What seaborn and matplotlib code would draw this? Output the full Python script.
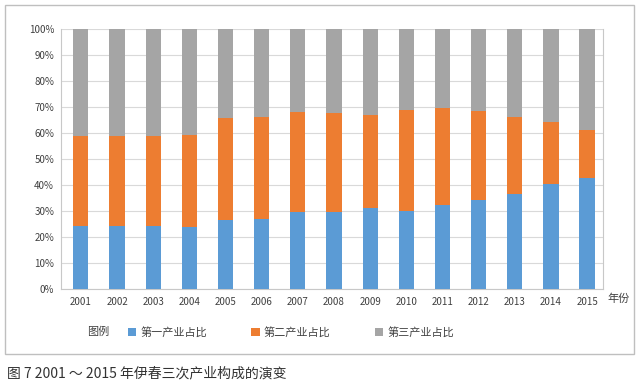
import pandas as pd
import matplotlib.pyplot as plt
import seaborn as sns
from matplotlib.patches import Rectangle

# data (shares in %)
years = [str(y) for y in range(2001, 2016)]
primary = [24.3, 24.1, 24.1, 23.9, 26.6, 26.9, 29.5, 29.6, 31.1, 30.1, 32.2, 34.3, 36.6, 40.5, 42.7]
secondary = [34.7, 34.9, 34.9, 35.4, 39.2, 39.3, 38.6, 38.1, 35.7, 38.9, 37.4, 34.3, 29.6, 23.6, 18.6]
tertiary = [41.0, 41.0, 41.0, 40.7, 34.2, 33.8, 31.9, 32.3, 33.2, 31.0, 30.4, 31.4, 33.8, 35.9, 38.7]
series_names = ["第一产业占比", "第二产业占比", "第三产业占比"]
colors = ["#5B9BD5", "#ED7D31", "#A5A5A5"]

df = pd.DataFrame({"year": years, "p1": primary, "p2": secondary, "p3": tertiary})
df["c1"] = df["p1"]
df["c2"] = df["p1"] + df["p2"]
df["c3"] = df["c2"] + df["p3"]

sns.set_style("white")
plt.rcParams["font.family"] = ["Noto Sans CJK SC", "DejaVu Sans"]

fig = plt.figure(figsize=(6.4, 3.83), dpi=100)
ax = fig.add_axes([61 / 640, 1 - 289 / 383, (603 - 61) / 640, (289 - 29) / 383])

# stacked bars: draw cumulative totals from top layer down
for col, name, color in zip(["c3", "c2", "c1"], series_names[::-1], colors[::-1]):
    sns.barplot(data=df, x="year", y=col, color=color, width=0.42,
                saturation=1, label=name, ax=ax, edgecolor="none")
for p in ax.patches:
    p.set_zorder(3)

ax.set_xlim(-0.55, 14.44)
ax.set_ylim(0, 100)
ax.set_yticks(range(0, 101, 10))
ax.set_yticklabels([f"{v}%" for v in range(0, 101, 10)])
ax.set_xlabel("")
ax.set_ylabel("")
ax.tick_params(axis="both", length=0, labelsize=7, colors="#404040")
ax.tick_params(axis="y", pad=5)
ax.tick_params(axis="x", pad=6)
ax.grid(axis="y", color="#D9D9D9", linewidth=0.8, zorder=0)
ax.set_axisbelow(True)
for side in ["left", "right", "bottom"]:
    ax.spines[side].set_color("#C8C8C8")
    ax.spines[side].set_linewidth(0.8)
ax.spines["top"].set_visible(False)

# legend
handles = [ax.containers[2], ax.containers[1], ax.containers[0]]
ax.legend(handles, series_names, loc="center left",
          bbox_to_anchor=(128 / 640, 1 - 332 / 383), bbox_transform=fig.transFigure,
          ncol=3, frameon=False, fontsize=8, handlelength=0.75, handleheight=0.75,
          handletextpad=0.35, columnspacing=4.0, borderpad=0, borderaxespad=0,
          labelcolor="#404040")

fig.text(87 / 640, 1 - 332 / 383, "图例", fontsize=8, color="#404040", va="center")
fig.text(607 / 640, 1 - 299 / 383, "年份", fontsize=8, color="#404040", va="center")

# outer frame and caption
fig.patches.append(Rectangle((5 / 640, 1 - 354 / 383), 629 / 640, 349 / 383,
                             transform=fig.transFigure, fill=False,
                             edgecolor="#BFBFBF", linewidth=1))
fig.text(7 / 640, 1 - 373 / 383, "图 7 2001 ～ 2015 年伊春三次产业构成的演变",
         fontsize=10, color="#333333", va="center")

fig.savefig("out.png", dpi=100)
